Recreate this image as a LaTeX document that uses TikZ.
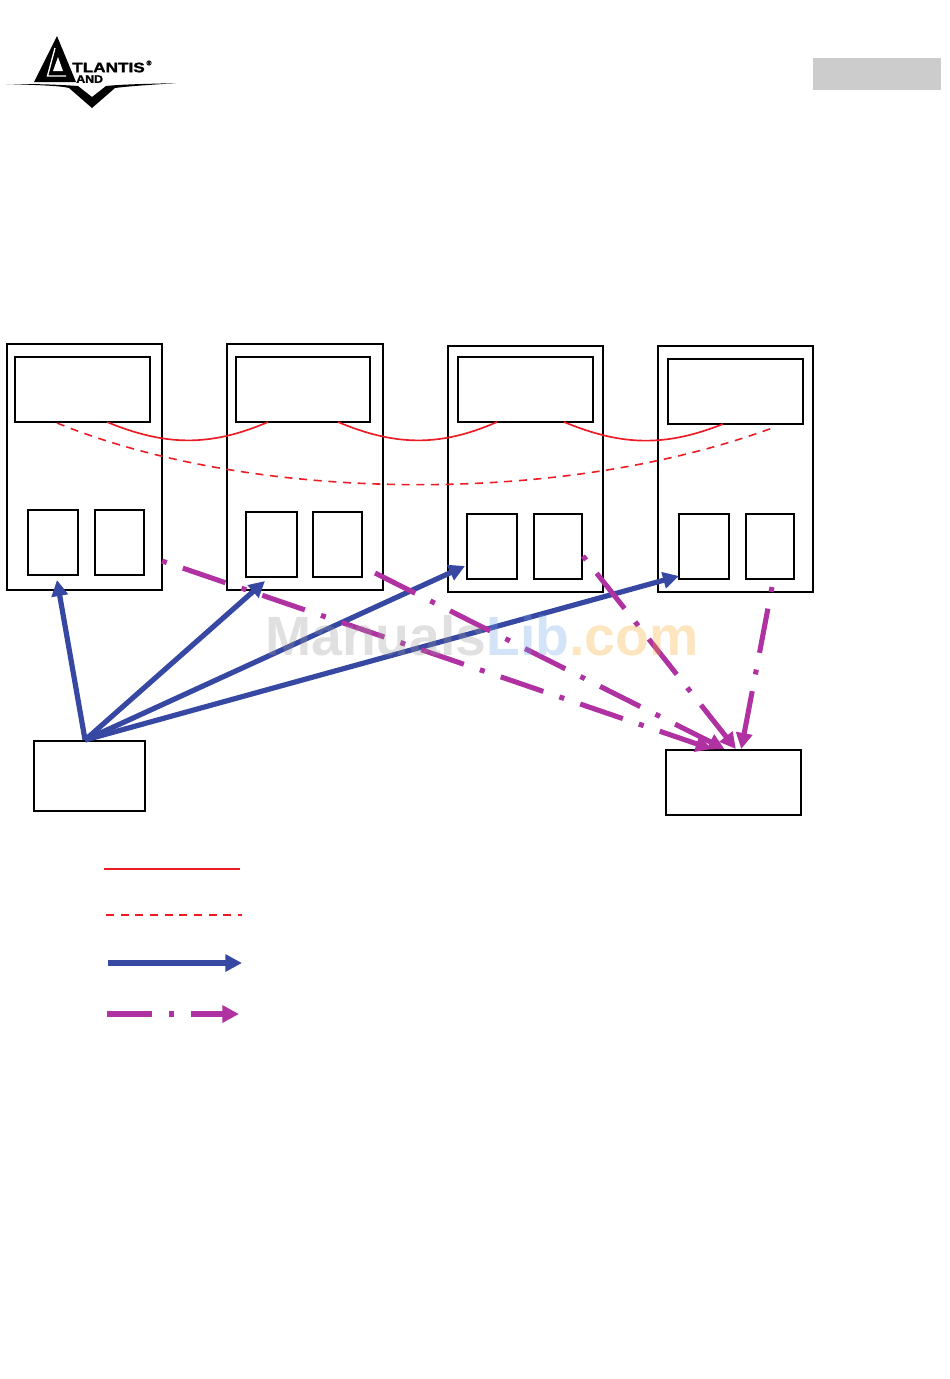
\documentclass[tikz,border=0pt]{standalone}
\usepackage{xcolor}
\usepackage{fontspec}
\setmainfont{Liberation Sans}
\newfontfamily\brandfont[BoldFeatures={FakeBold=1.5}]{Liberation Sans}
\usetikzlibrary{arrows.meta}
\definecolor{linkred}{HTML}{ED1C24}
\definecolor{mgmtblue}{HTML}{3748A3}
\definecolor{statpurple}{HTML}{B031A2}
\definecolor{tabgrey}{HTML}{CCCCCC}
\definecolor{wmgrey}{HTML}{989898}
\definecolor{wmblue}{HTML}{70A5E8}
\definecolor{wmorange}{HTML}{F8A82A}
\tikzset{
  box/.style={draw, line width=1.5pt, inner sep=0pt},
  mgmt/.style={-{Triangle[length=12pt,width=12pt]}, mgmtblue, line width=3.9pt},
  stat/.style={-{Triangle[length=12pt,width=12pt]}, statpurple, line width=3.8pt, dash pattern=on 3.75pt off 12.75pt on 33.75pt off 12.75pt},
  statb/.style={-{Triangle[length=12pt,width=12pt]}, statpurple, line width=3.8pt, dash pattern=on 33.75pt off 12.75pt on 3.75pt off 12.75pt},
  wds/.style={linkred, line width=1.25pt},
  stp/.style={linkred, line width=1.2pt, dash pattern=on 6pt off 5pt},
}
\begin{document}
\begin{tikzpicture}[x=0.75pt, y=-0.75pt]
  \useasboundingbox (0,0) rectangle (950,1379);
  % logo
  \fill (57,36) -- (34,82) -- (76,82) -- cycle;
  \draw[white, line width=1pt] (55,48) -- (47.5,76) -- (66,76);
  \fill[white] (58,57) -- (53,71) -- (63,71) -- cycle;
  \fill (6,84) .. controls (40,85) and (62,86) .. (69,88) -- (92,108) -- (115,88) .. controls (130,86) and (150,85) .. (176,83) .. controls (150,84) and (125,84) .. (106,86) -- (92,97) -- (78,86) .. controls (50,84) and (30,84) .. (6,84) -- cycle;
  \node[font=\brandfont\bfseries\fontsize{10.3}{11}\selectfont, inner sep=0pt, anchor=west] (brand) at (72,67.5) {\scalebox{1.25}[1]{TLANTIS}};
  \node[font=\brandfont\bfseries\fontsize{8.2}{9}\selectfont, inner sep=0pt, anchor=west] (brandb) at (76,79) {\scalebox{1.13}[1]{AND}};
  \node[font=\brandfont\bfseries\fontsize{5}{6}\selectfont, inner sep=0pt] (reg) at (149,63) {\textregistered};
  % page tab
  \fill[tabgrey] (813,58) rectangle (941,90);
  % towers
  \node[box, minimum width=116.25pt, minimum height=184.5pt] (T1) at (84.5,467) {};
  \node[box, minimum width=117pt, minimum height=184.5pt] (T2) at (305,467) {};
  \node[box, minimum width=116.25pt, minimum height=184.5pt] (T3) at (525.5,469) {};
  \node[box, minimum width=116.25pt, minimum height=184.5pt] (T4) at (735.5,469) {};
  \node[box, minimum width=101.25pt, minimum height=48.75pt] (R1) at (82.5,389.5) {};
  \node[box, minimum width=100.5pt, minimum height=48.75pt] (R2) at (303,389.5) {};
  \node[box, minimum width=101.25pt, minimum height=48.75pt] (R3) at (525.5,389.5) {};
  \node[box, minimum width=101.25pt, minimum height=48.75pt] (R4) at (735.5,391.5) {};
  \node[box, minimum width=37.5pt, minimum height=48.75pt] (P1a) at (53,542.5) {};
  \node[box, minimum width=36.75pt, minimum height=48.75pt] (P1b) at (119.5,542.5) {};
  \node[box, minimum width=38.25pt, minimum height=48.75pt] (P2a) at (271.5,544.5) {};
  \node[box, minimum width=36.75pt, minimum height=48.75pt] (P2b) at (337.5,544.5) {};
  \node[box, minimum width=37.5pt, minimum height=48.75pt] (P3a) at (492,546.5) {};
  \node[box, minimum width=36pt, minimum height=48.75pt] (P3b) at (558,546.5) {};
  \node[box, minimum width=37.5pt, minimum height=48.75pt] (P4a) at (704,546.5) {};
  \node[box, minimum width=36pt, minimum height=48.75pt] (P4b) at (770,546.5) {};
  \node[box, minimum width=83.25pt, minimum height=52.5pt] (src) at (89.5,776) {};
  \node[box, minimum width=101.25pt, minimum height=48.75pt] (dst) at (733.5,782.5) {};
  % links between the radios
  \coordinate (w1) at (107,422); \coordinate (w2) at (268,422);
  \coordinate (w3) at (338,422); \coordinate (w4) at (497,422);
  \coordinate (w5) at (564,422); \coordinate (w6) at (723,424);
  \coordinate (s1) at (57,423); \coordinate (s2) at (775,427);
  \draw[wds] (w1) .. controls (165,446) and (210,447) .. (w2);
  \draw[wds] (w3) .. controls (395,446) and (440,447) .. (w4);
  \draw[wds] (w5) .. controls (622,446) and (665,447) .. (w6);
  \draw[stp] (s1) .. controls (250,502) and (560,507) .. (s2);
  % management
  \coordinate (m1) at (57,580); \coordinate (m2) at (265,581);
  \coordinate (m3) at (465,566); \coordinate (m4) at (679,576);
  \draw[mgmt] (src.97) -- (m1);
  \draw[mgmt] (src.97) -- (m2);
  \draw[mgmt] (src.97) -- (m3);
  \draw[mgmt] (src.97) -- (m4);
  % statistics
  \coordinate (d1) at (162,561); \coordinate (d2) at (375,573);
  \coordinate (d3) at (583,556); \coordinate (d4) at (772,587);
  \draw[stat] (d1) -- (dst.123);
  \draw[statb] (d2) -- (dst.105);
  \draw[stat] (d3) -- (dst.86);
  \draw[stat] (d4) -- (dst.77);
  % legend
  \coordinate (l1a) at (104,869); \coordinate (l1b) at (240,869);
  \coordinate (l2a) at (106,915); \coordinate (l2b) at (242,915);
  \coordinate (l3a) at (108,963); \coordinate (l3b) at (242,963);
  \coordinate (l4a) at (107,1014); \coordinate (l4b) at (239,1014);
  \draw[wds] (l1a) -- (l1b);
  \draw[stp] (l2a) -- (l2b);
  \draw[mgmt, -{Triangle[length=12.5pt,width=12.5pt]}] (l3a) -- (l3b);
  \draw[statb, -{Triangle[length=12.5pt,width=12.5pt]}] (l4a) -- (l4b);
  % watermark
  \node[font=\bfseries\fontsize{41.5}{44}\selectfont, text opacity=0.3, inner sep=0pt] (wm) at (482,636) {\textcolor{wmgrey}{Manuals}\textcolor{wmblue}{Lib}\textcolor{wmorange}{.com}};
\end{tikzpicture}
\end{document}
